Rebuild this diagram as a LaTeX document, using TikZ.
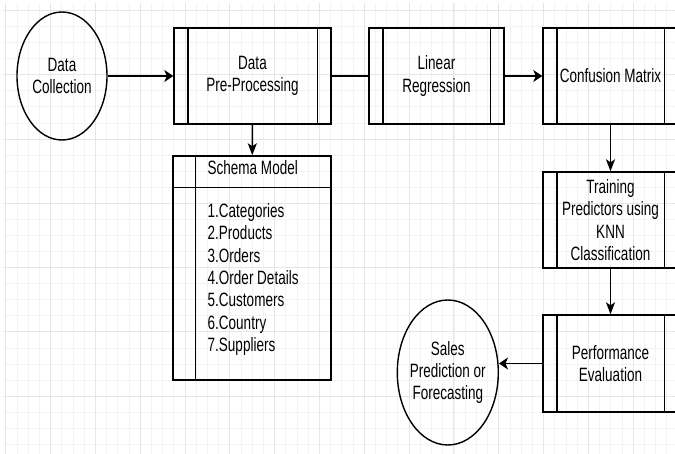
\documentclass[tikz,border=0pt]{standalone}
\usepackage{fontspec}
\setmainfont{Liberation Sans}[FakeStretch=0.70]
\usetikzlibrary{shapes.geometric,arrows.meta}
\definecolor{gridminor}{HTML}{F3F3F3}
\definecolor{gridmajor}{HTML}{E6E6E6}
\begin{document}
\begin{tikzpicture}[x=1pt,y=-1pt,
  every node/.style={font=\fontsize{19.3}{22.4}\selectfont, text=black, inner sep=0pt},
  proc/.style={draw, line width=1.4pt, rectangle, minimum width=#1, minimum height=96pt},
  terminal/.style={draw, line width=1.4pt, ellipse},
  bar/.style={line width=1.4pt},
  label/.style={align=center},
  link/.style={line width=1.4pt},
  arrh/.style={link, -{Stealth[length=9pt,width=12pt,inset=2.5pt]}},
  arrv/.style={link, -{Stealth[length=12pt,width=9pt,inset=3pt]}},
]
% page frame
\useasboundingbox (0,0) rectangle (675,454);
\clip (0,0) rectangle (675,454);
\fill[white] (0,0) rectangle (675,454);

% background grid
\foreach \k in {0,...,60}
  \draw[gridminor, line width=0.8pt] (5.7+11.205*\k, 3) -- (5.7+11.205*\k, 454);
\foreach \k in {0,...,27}
  \draw[gridminor, line width=0.8pt] (3, 10.4+16.075*\k) -- (675, 10.4+16.075*\k);
\foreach \k in {0,...,15}
  \draw[gridmajor, line width=0.9pt] (5.7+44.82*\k, 3) -- (5.7+44.82*\k, 454);
\foreach \k in {0,...,6}
  \draw[gridmajor, line width=0.9pt] (3, 10.4+64.3*\k) -- (675, 10.4+64.3*\k);

% terminals
\node[terminal, minimum width=90pt, minimum height=128pt] (dc) at (62,76) {};
\node[label] (dctext) at (dc) {Data\\Collection};
\node[terminal, minimum width=101pt, minimum height=145pt] (sales) at (447.8,372.5) {};
\node[label] (salestext) at (sales) {Sales\\Prediction or\\Forecasting};

% process boxes
\node[proc=157pt] (pp) at (252.5,76) {};
\node[proc=135pt] (lr) at (436.5,76) {};
\node[proc=135pt] (cm) at (610.5,76) {};
\node[proc=135pt] (tr) at (610.5,220) {};
\node[proc=135pt, minimum height=97pt] (pe) at (610.5,363.5) {};
\foreach \n in {pp,lr,cm,tr,pe} {
  \draw[bar] ([xshift=14.5pt]\n.north west) -- ([xshift=14.5pt]\n.south west);
  \draw[bar] ([xshift=-14.5pt]\n.north east) -- ([xshift=-14.5pt]\n.south east);
}
\node[label] (pptext) at (pp) {Data\\Pre-Processing};
\node[label] (lrtext) at (lr) {Linear\\Regression};
\node[label] (cmtext) at (cm) {Confusion Matrix};
\node[label] (trtext) at (tr) {Training\\Predictors using\\KNN\\Classification};
\node[label] (petext) at (pe) {Performance\\Evaluation};

% schema list box
\node[draw, line width=1.4pt, rectangle, minimum width=158pt, minimum height=224pt] (schema) at (252,268) {};
\draw[bar] ([yshift=-32pt]schema.north west) -- ([yshift=-32pt]schema.north east);
\draw[bar] ([xshift=23pt]schema.north west) -- ([xshift=23pt]schema.south west);
\node[anchor=west] (smtitle) at (207.5,168) {Schema Model};
\node[anchor=west, align=left] (smitems) at (207.5,279.5)
  {1.Categories\\2.Products\\3.Orders\\4.Order Details\\5.Customers\\6.Country\\7.Suppliers};

% connectors
\draw[arrh] (dc) -- (pp);
\draw[link] (pp) -- (lr);
\draw[arrh] (lr) -- (cm);
\draw[arrv] (pp) -- (schema);
\draw[arrv] (cm) -- (tr);
\draw[arrv] (tr) -- (pe);
\draw[arrh] (pe.west) -- (pe.west -| sales.east);
\end{tikzpicture}
\end{document}
